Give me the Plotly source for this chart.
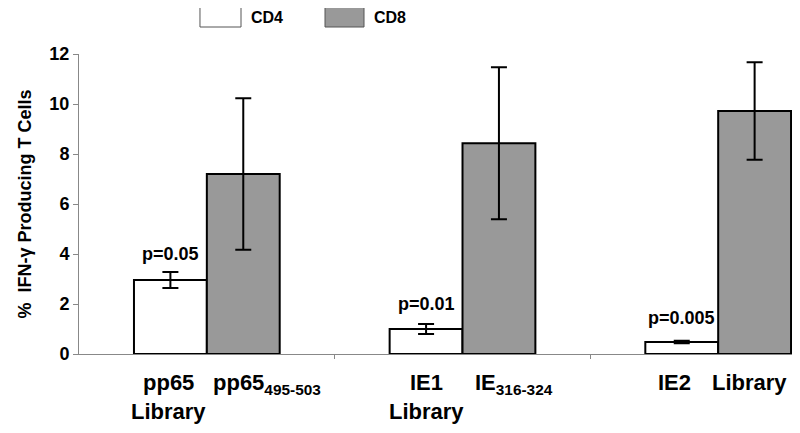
import plotly.graph_objects as go

# groups on the x axis (0, 1, 2)
groups = [0, 1, 2]

cd4_values = [2.96, 1.0, 0.48]
cd4_err = [0.32, 0.2, 0.05]
cd8_values = [7.2, 8.43, 9.72]
cd8_err = [3.03, 3.04, 1.95]

cd4_labels = ["pp65<br>Library", "IE1<br>Library", "IE2"]
cd8_labels = ["pp65<sub>495-503</sub>", "IE<sub>316-324</sub>", "Library"]
p_values = ["p=0.05", "p=0.01", "p=0.005"]
p_label_y = [4.0, 2.0, 1.45]

y_ticks = [0, 2, 4, 6, 8, 10, 12]

FONT = "Liberation Sans, Arial, sans-serif"
BAR_W = 0.285

fig = go.Figure()
fig.add_trace(go.Bar(
    x=groups, y=cd4_values, name="CD4",
    marker=dict(color="white", line=dict(color="black", width=2)),
    error_y=dict(type="data", array=cd4_err, color="black", thickness=2, width=8),
))
fig.add_trace(go.Bar(
    x=groups, y=cd8_values, name="CD8",
    marker=dict(color="#999999", line=dict(color="black", width=2)),
    error_y=dict(type="data", array=cd8_err, color="black", thickness=2, width=8),
))

# p-value labels above CD4 bars
for g, txt, yy in zip(groups, p_values, p_label_y):
    fig.add_annotation(x=g - BAR_W / 2, y=yy, text="<b>%s</b>" % txt, showarrow=False,
                       font=dict(family=FONT, size=18, color="black"))

# category labels under the bars, one annotation per line
def put_label(xpos, label, shift):
    for i, line in enumerate(label.split("<br>")):
        fig.add_annotation(x=xpos, y=0, yref="paper", yanchor="top",
                           xshift=shift, yshift=-14 - 29 * i,
                           text="<b>%s</b>" % line, showarrow=False,
                           font=dict(family=FONT, size=22, color="black"))

# the labels in the original sit a little off the bar centres
cd4_shift = [-2, 0, -7]
cd8_shift = [24, 15, -5]
for g, lab, s in zip(groups, cd4_labels, cd4_shift):
    put_label(g - BAR_W / 2, lab, s)
for g, lab, s in zip(groups, cd8_labels, cd8_shift):
    put_label(g + BAR_W / 2, lab, s)

# legend drawn at the top (page has an 8px body margin, figure is 792x425)
legend_items = [("CD4", "white", 0.1678, 0.2247), ("CD8", "#999999", 0.3412, 0.3953)]
for name, col, x0, x1 in legend_items:
    fig.add_shape(type="rect", xref="paper", yref="paper", x0=x0, x1=x1, y0=1.09, y1=1.157,
                  fillcolor=col, line=dict(color="#555555", width=1))
    fig.add_annotation(xref="paper", yref="paper", x=x1 + 0.011, y=1.123,
                       xanchor="left", yanchor="middle",
                       text="<b>%s</b>" % name, showarrow=False,
                       font=dict(family=FONT, size=16, color="black"))

fig.update_layout(
    width=792, height=425,
    margin=dict(l=71, r=0, t=46, b=79),
    paper_bgcolor="white", plot_bgcolor="white",
    barmode="group", bargap=0.43, bargroupgap=0,
    showlegend=False,
    font=dict(family=FONT, color="black"),
    xaxis=dict(range=[-0.5, 2.32], tickvals=[0.5, 1.5], showticklabels=False,
               ticks="outside", ticklen=4, tickcolor="#888888",
               showline=True, linecolor="#888888", linewidth=1,
               showgrid=False, zeroline=False),
    yaxis=dict(range=[0, 12], tickvals=y_ticks, ticktext=["<b>%d</b>" % t for t in y_ticks],
               ticks="outside", ticklen=5,
               tickcolor="#888888", showline=True, linecolor="#888888", linewidth=1,
               showgrid=False, zeroline=False,
               tickfont=dict(family=FONT, size=18, color="black"),
               title=dict(text="<b>%  IFN-γ Producing T Cells</b>", standoff=13,
                          font=dict(family=FONT, size=18, color="black"))),
)

fig.write_html("out.html")
